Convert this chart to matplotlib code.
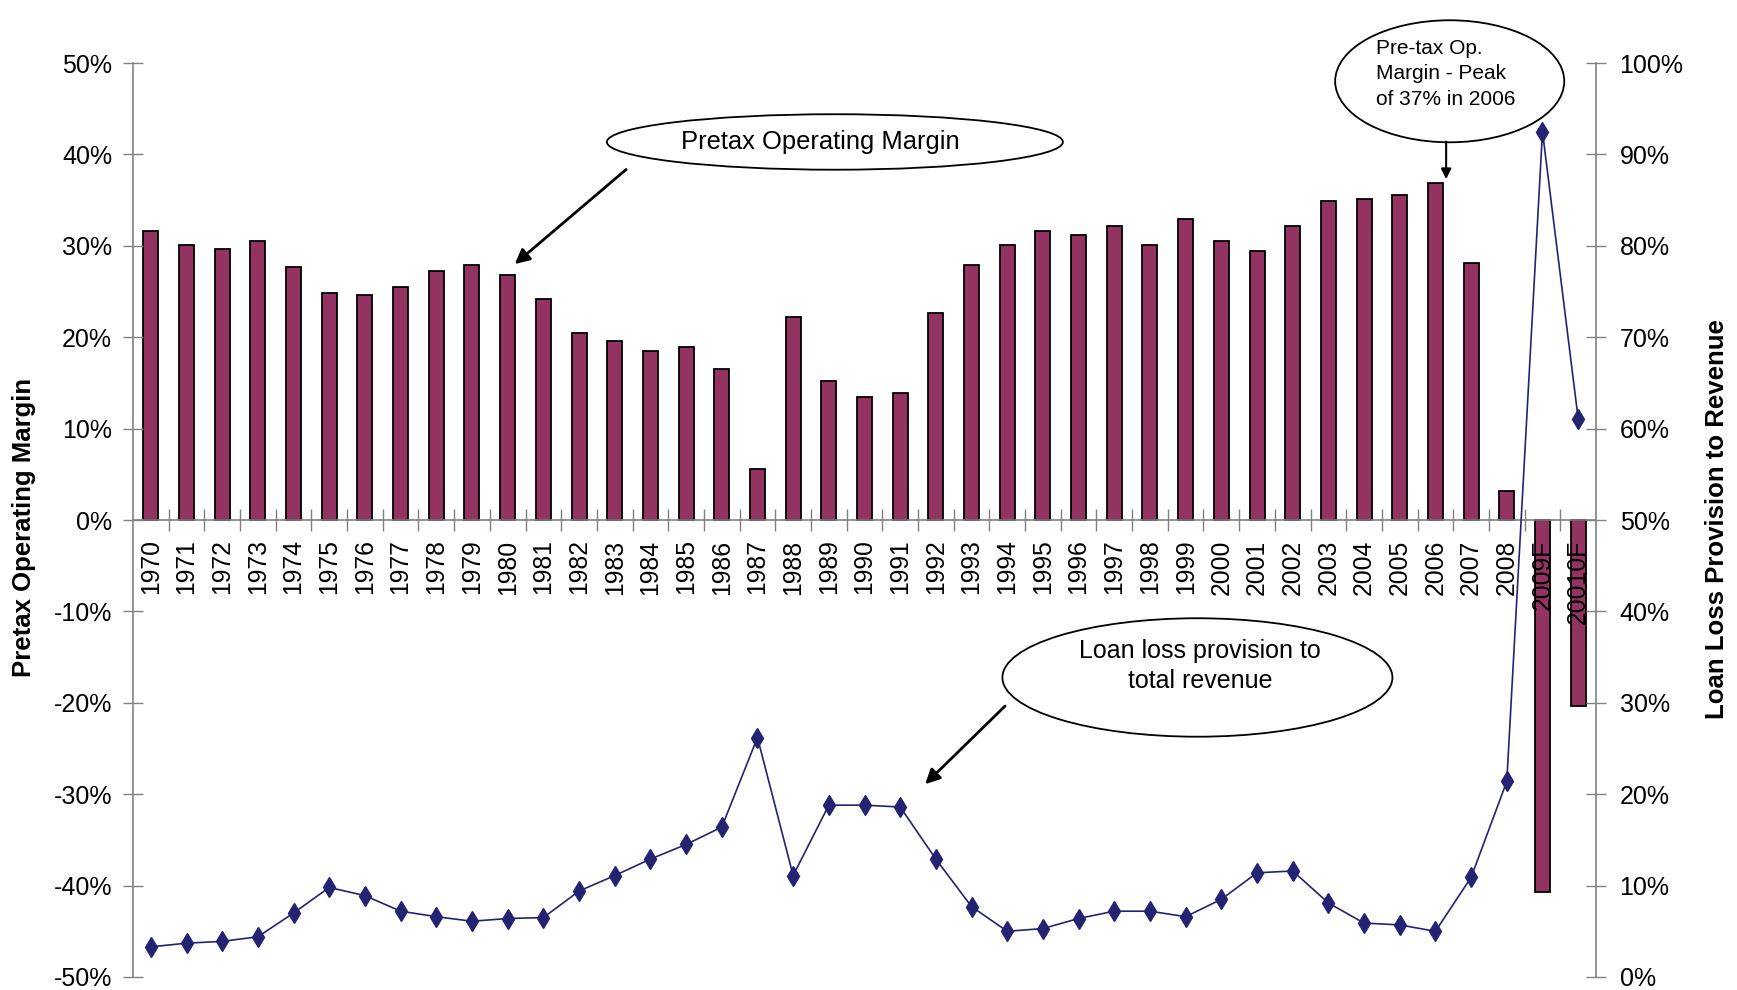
import numpy as np
import matplotlib
matplotlib.use("Agg")
import matplotlib.pyplot as plt
from matplotlib.patches import Ellipse
from matplotlib.ticker import FuncFormatter

plt.rcParams['font.family'] = ['Liberation Sans', 'DejaVu Sans']

years = ["1970", "1971", "1972", "1973", "1974", "1975", "1976", "1977", "1978", "1979",
         "1980", "1981", "1982", "1983", "1984", "1985", "1986", "1987", "1988", "1989",
         "1990", "1991", "1992", "1993", "1994", "1995", "1996", "1997", "1998", "1999",
         "2000", "2001", "2002", "2003", "2004", "2005", "2006", "2007", "2008",
         "2009F", "20010F"]

# Pretax operating margin (%), left axis
pretax_margin = [31.6, 30.1, 29.6, 30.5, 27.7, 24.8, 24.6, 25.5, 27.2, 27.9,
                 26.8, 24.2, 20.5, 19.6, 18.5, 18.9, 16.5, 5.6, 22.2, 15.2,
                 13.5, 13.9, 22.6, 27.9, 30.1, 31.6, 31.2, 32.2, 30.1, 32.9,
                 30.5, 29.4, 32.2, 34.9, 35.1, 35.6, 36.9, 28.1, 3.2,
                 -40.7, -20.3]

# Loan loss provision to total revenue (%), right axis
loan_loss = [3.3, 3.7, 3.9, 4.4, 7.0, 9.8, 8.9, 7.2, 6.6, 6.1,
             6.4, 6.5, 9.4, 11.1, 12.9, 14.5, 16.4, 26.2, 11.1, 18.8,
             18.8, 18.6, 12.9, 7.7, 5.0, 5.3, 6.4, 7.2, 7.2, 6.6,
             8.5, 11.4, 11.6, 8.1, 5.9, 5.7, 5.0, 10.9, 21.4,
             92.5, 61.1]

left_ticks = list(range(-50, 51, 10))
right_ticks = list(range(0, 101, 10))

bar_color = '#923361'
line_color = '#232372'
axis_gray = '#808080'

W, H = 1737, 990
fig = plt.figure(figsize=(W / 100, H / 100), dpi=100)
fig.patch.set_facecolor('white')

x0, x1, y_top, y_bot = 133, 1596, 63, 977
ax = fig.add_axes([x0 / W, 1 - y_bot / H, (x1 - x0) / W, (y_bot - y_top) / H])
x = np.arange(len(years))

ax.bar(x, pretax_margin, width=0.42, color=bar_color, edgecolor='black', linewidth=1.3, zorder=1)
ax.set_xlim(-0.5, len(years) - 0.5)
ax.set_ylim(-50, 50)

for s in ['top', 'right']:
    ax.spines[s].set_visible(False)
ax.spines['bottom'].set_position(('data', 0))
ax.spines['bottom'].set_color(axis_gray)
ax.spines['left'].set_color(axis_gray)
ax.spines['bottom'].set_linewidth(1.2)
ax.spines['left'].set_linewidth(1.2)

ax.set_xticks(x)
ax.set_xticklabels(years, rotation=90, fontsize=17.8)
ax.set_xticks(np.arange(0.5, len(years) - 0.5, 1), minor=True)
ax.tick_params(axis='x', which='major', length=0, pad=14)
ax.tick_params(axis='x', which='minor', direction='inout', length=16, width=1, color=axis_gray)

ax.set_yticks(left_ticks)
ax.yaxis.set_major_formatter(FuncFormatter(lambda v, p: f"{int(v)}%"))
ax.tick_params(axis='y', direction='inout', length=14, width=1, color=axis_gray,
               labelsize=18, pad=8)

ax2 = ax.twinx()
ax2.plot(x, loan_loss, color=line_color, linewidth=1.2, marker='d', markersize=10,
         markerfacecolor=line_color, markeredgecolor=line_color)
ax2.set_ylim(0, 100)
for s in ['top', 'left', 'bottom']:
    ax2.spines[s].set_visible(False)
ax2.spines['right'].set_color(axis_gray)
ax2.spines['right'].set_linewidth(1.2)
ax2.set_yticks(right_ticks)
ax2.yaxis.set_major_formatter(FuncFormatter(lambda v, p: f"{int(v)}%"))
ax2.tick_params(axis='y', direction='inout', length=14, width=1, color=axis_gray,
                labelsize=18, pad=10)

fig.text(24 / W, 1 - 527 / H, 'Pretax Operating Margin', rotation=90, ha='center', va='center',
         fontsize=18.5, fontweight='bold')
fig.text(1717 / W, 1 - 519.5 / H, 'Loan Loss Provision to Revenue', rotation=90, ha='center',
         va='center', fontsize=18.5, fontweight='bold')

# Callout bubbles
ax.add_patch(Ellipse((19.17, 41.36), 12.78, 6.07, facecolor='white', edgecolor='black',
                     linewidth=1.3, zorder=5, clip_on=False))
ax.text(18.75, 41.4, 'Pretax Operating Margin', ha='center', va='center', fontsize=18.4, zorder=6)
ax.annotate('', xy=(10.2, 28.0), xytext=(13.32, 38.35),
            arrowprops=dict(arrowstyle='-|>', color='black', lw=2, mutation_scale=22,
                            shrinkA=0, shrinkB=0), zorder=6)

ax.add_patch(Ellipse((36.4, 48.0), 6.42, 13.35, facecolor='white', edgecolor='black',
                     linewidth=1.3, zorder=5, clip_on=False))
ax.text(34.34, 48.8, 'Pre-tax Op.\nMargin - Peak\nof 37% in 2006', ha='left', va='center',
        fontsize=15, linespacing=1.44, zorder=6, clip_on=False)
ax.annotate('', xy=(36.3, 37.3), xytext=(36.3, 41.4),
            arrowprops=dict(arrowstyle='-|>', color='black', lw=1.5, mutation_scale=15,
                            shrinkA=0, shrinkB=0), zorder=6)

ax.add_patch(Ellipse((29.33, -17.23), 10.93, 12.96, facecolor='white', edgecolor='black',
                     linewidth=1.3, zorder=5, clip_on=False))
ax.text(29.4, -15.97, 'Loan loss provision to\ntotal revenue', ha='center', va='center',
        fontsize=18, linespacing=1.3, zorder=6)
ax.annotate('', xy=(21.7, -28.9), xytext=(23.94, -20.35),
            arrowprops=dict(arrowstyle='-|>', color='black', lw=2, mutation_scale=22,
                            shrinkA=0, shrinkB=0), zorder=6)

fig.savefig('out.png', dpi=100)
